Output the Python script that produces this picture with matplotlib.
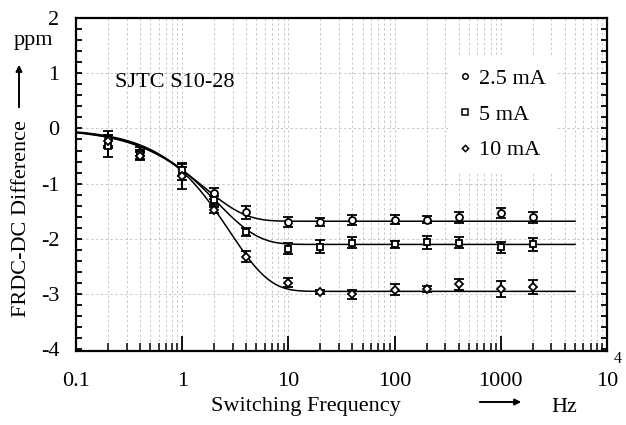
import numpy as np
import matplotlib.pyplot as plt
from matplotlib.ticker import FixedLocator, NullFormatter
from matplotlib.lines import Line2D
from matplotlib.patches import FancyArrowPatch

plt.rcParams['font.family'] = ['Liberation Serif', 'DejaVu Serif']

# measured switching frequencies (Hz)
freq = [0.2, 0.4, 1, 2, 4, 10, 20, 40, 100, 200, 400, 1000, 2000]

# FRDC-DC difference (ppm) and error bars for each current
diff_25 = [-0.20, -0.42, -0.82, -1.17, -1.52, -1.70, -1.70, -1.65, -1.65, -1.65, -1.61, -1.53, -1.61]
err_25 = [0.15, 0.08, 0.12, 0.10, 0.12, 0.09, 0.07, 0.09, 0.08, 0.07, 0.10, 0.09, 0.10]
diff_5 = [-0.32, -0.47, -0.75, -1.30, -1.88, -2.18, -2.14, -2.07, -2.10, -2.06, -2.07, -2.15, -2.10]
err_5 = [0.20, 0.08, 0.12, 0.08, 0.07, 0.10, 0.12, 0.10, 0.06, 0.12, 0.10, 0.10, 0.12]
diff_10 = [-0.22, -0.50, -0.87, -1.48, -2.32, -2.79, -2.96, -3.00, -2.92, -2.91, -2.82, -2.91, -2.87]
err_10 = [0.10, 0.08, 0.22, 0.05, 0.10, 0.08, 0.03, 0.08, 0.10, 0.06, 0.10, 0.15, 0.12]

# fitted curves: y = -A * (1 - exp(-(f/fc)^n))
fit_A = [1.68, 2.10, 2.95]
fit_fc = [1.6, 2.1, 2.8]
fit_n = [1.1, 1.1, 1.15]

labels = ["2.5 mA", "5 mA", "10 mA"]
markers = ["o", "s", "D"]
msizes = [5, 5, 4.2]
fs = 16

fig = plt.figure(figsize=(6.26, 4.25), dpi=100)
ax = fig.add_axes([76 / 626, 1 - 351 / 425, 531 / 626, 333 / 425])

ax.set_xscale('log')
ax.set_xlim(0.1, 1e4)
ax.set_ylim(-4.03, 2.0)

# grid
minors = [m * 10.0 ** e for e in range(-1, 4) for m in range(2, 10)]
ax.set_xticks([0.1, 1, 10, 100, 1000, 10000])
ax.xaxis.set_minor_locator(FixedLocator(minors))
ax.xaxis.set_minor_formatter(NullFormatter())
ax.set_xticklabels(["0.1", "1", "10", "100", "1000", "10"])
for x in [0.1, 1, 10, 100, 1000] + minors:
    ax.axvline(x, color='#c8c8c8', lw=0.7, ls=(0, (2.5, 2.5)), zorder=0)
for yv in [-3, -2, -1, 0, 1]:
    ax.axhline(yv, color='#c8c8c8', lw=0.7, ls=(0, (2.5, 2.5)), zorder=0)

ax.set_yticks([-4, -3, -2, -1, 0, 1, 2])
ax.set_yticklabels(["-4", "-3", "-2", "-1", "0", "1", "2"])
ax.yaxis.set_minor_locator(FixedLocator(np.arange(-4, 2.01, 0.2)))

ax.tick_params(axis='x', which='major', direction='in', length=11, width=1.3, pad=15, labelsize=fs)
ax.tick_params(axis='x', which='minor', direction='in', length=6, width=1.1)
ax.tick_params(axis='y', which='both', direction='in', length=4.5, width=1.3, pad=12,
               labelsize=fs, right=True)
for s in ax.spines.values():
    s.set_linewidth(1.6)

fgrid = np.logspace(-1, np.log10(5000), 300)
series = [(diff_25, err_25), (diff_5, err_5), (diff_10, err_10)]
for i, (vals, errs) in enumerate(series):
    curve = -fit_A[i] * (1 - np.exp(-(fgrid / fit_fc[i]) ** fit_n[i]))
    ax.plot(fgrid, curve, color='black', lw=1.1, zorder=2)
    ax.errorbar(freq, vals, yerr=errs, fmt=markers[i], ms=msizes[i], mfc='white', mec='black',
                mew=1.3, ecolor='black', elinewidth=1.5, capsize=3.5, capthick=1.5, zorder=3)

handles = [Line2D([0], [0], marker=markers[i], ms=msizes[i] - 1, mfc='white', mec='black',
                  mew=1.1, ls='None') for i in range(3)]
leg = ax.legend(handles, labels, loc='upper left', bbox_to_anchor=(0.68, 0.915), fontsize=fs,
                handlelength=0.5, handletextpad=0.4, labelspacing=0.68, borderpad=0.5,
                frameon=True, fancybox=False, framealpha=1)
leg.get_frame().set_edgecolor('white')
leg.get_frame().set_linewidth(0)

ax.text(0.073, 0.806, "SJTC S10-28", transform=ax.transAxes, fontsize=fs, va='center', ha='left')

# axis labels with arrows
fig.text(22 / 626, 1 - 219 / 425, "FRDC-DC Difference", rotation=90, ha='center', va='center', fontsize=fs)
fig.text(33 / 626, 1 - 40 / 425, "ppm", ha='center', va='center', fontsize=fs)
fig.patches.append(FancyArrowPatch(
    (19 / 626, 1 - 110 / 425), (19 / 626, 1 - 62 / 425), transform=fig.transFigure,
    arrowstyle='-|>', mutation_scale=9, lw=1.4, color='black'))

fig.text(306 / 626, 1 - 407 / 425, "Switching Frequency", ha='center', va='center', fontsize=fs)
fig.text(564 / 626, 1 - 407 / 425, "Hz", ha='center', va='center', fontsize=fs)
fig.patches.append(FancyArrowPatch(
    (477 / 626, 1 - 402 / 425), (524 / 626, 1 - 402 / 425), transform=fig.transFigure,
    arrowstyle='-|>', mutation_scale=9, lw=1.4, color='black'))
fig.text(618 / 626, 1 - 359 / 425, "4", ha='center', va='center', fontsize=11.5)

fig.savefig("out.png", dpi=100)
